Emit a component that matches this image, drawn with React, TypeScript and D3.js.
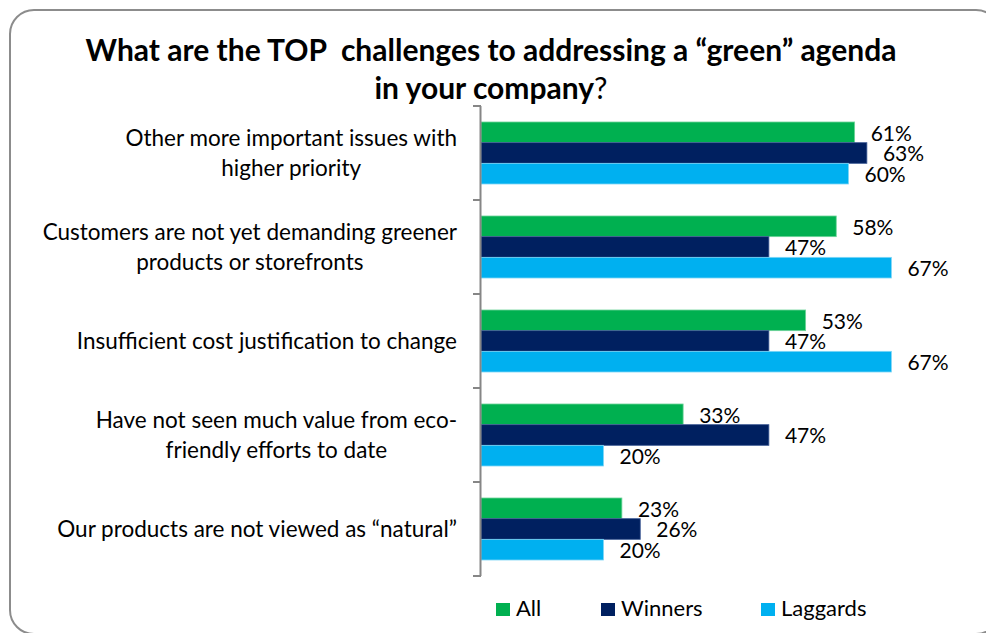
import React, { useEffect, useRef } from "react";
import * as d3 from "d3";

const categories = [
  "Other more important issues with\nhigher priority",
  "Customers are not yet demanding greener\nproducts or storefronts",
  "Insufficient cost justification to change",
  "Have not seen much value from eco-\nfriendly efforts to date",
  "Our products are not viewed as “natural”",
];
const seriesNames = ["All", "Winners", "Laggards"];
const allValues = [0.61, 0.58, 0.53, 0.33, 0.23];
const winnersValues = [0.63, 0.47, 0.47, 0.47, 0.26];
const laggardsValues = [0.6, 0.67, 0.67, 0.2, 0.2];
const seriesColors = ["#00B050", "#002060", "#00B0F0"];
const seriesStrokes = ["#6fd49a", "#3d5a94", "#7fd6f6"];
const titleLine1 = "What are the TOP  challenges to addressing a “green” agenda";
const titleLine2Bold = "in your company";
const titleLine2Rest = "?";

const W = 986;
const H = 633;
const FONT = "Lato, 'Open Sans', sans-serif";

export default function App() {
  const ref = useRef<SVGSVGElement>(null);

  useEffect(() => {
    const svg = d3.select(ref.current);
    svg.selectAll("*").remove();

    const seriesValues = [allValues, winnersValues, laggardsValues];

    svg.append("rect").attr("width", W).attr("height", H).attr("fill", "#fff");
    svg
      .append("rect")
      .attr("x", 10)
      .attr("y", 10)
      .attr("width", 990)
      .attr("height", 624)
      .attr("rx", 24)
      .attr("fill", "#fff")
      .attr("stroke", "#8c8c8c")
      .attr("stroke-width", 2);

    // Title
    svg
      .append("text")
      .attr("x", 491)
      .attr("y", 61)
      .attr("text-anchor", "middle")
      .attr("font-family", FONT)
      .attr("font-weight", "bold")
      .attr("font-size", 30)
      .attr("fill", "#000")
      .style("white-space", "pre")
      .text(titleLine1);
    const t2 = svg
      .append("text")
      .attr("x", 491)
      .attr("y", 99)
      .attr("text-anchor", "middle")
      .attr("font-family", FONT)
      .attr("font-size", 30)
      .attr("fill", "#000");
    t2.append("tspan").attr("font-weight", "bold").text(titleLine2Bold);
    t2.append("tspan").attr("font-weight", "normal").text(titleLine2Rest);

    const x = d3.scaleLinear().domain([0, 0.8]).range([481, 971]);
    const y = d3
      .scaleBand<number>()
      .domain(d3.range(categories.length))
      .range([106, 576])
      .paddingInner(0)
      .paddingOuter(0);
    const inner = d3
      .scaleBand<string>()
      .domain(seriesNames)
      .range([0, y.step()])
      .paddingInner(0)
      .paddingOuter(0.774);

    const g = svg.append("g");
    seriesNames.forEach((s, si) => {
      const vals = seriesValues[si];
      g.selectAll(null)
        .data(vals)
        .enter()
        .append("rect")
        .attr("x", x(0))
        .attr("y", (_, i) => (y(i) as number) + (inner(s) as number))
        .attr("width", (v) => x(v) - x(0))
        .attr("height", inner.bandwidth())
        .attr("fill", seriesColors[si])
        .attr("stroke", seriesStrokes[si])
        .attr("stroke-width", 0.8);
      g.selectAll(null)
        .data(vals)
        .enter()
        .append("text")
        .attr("x", (v) => x(v) + 16)
        .attr("y", (_, i) => (y(i) as number) + (inner(s) as number) + inner.bandwidth() / 2 + 1)
        .attr("dy", "0.35em")
        .attr("font-family", FONT)
        .attr("font-size", 21)
        .attr("fill", "#000")
        .text((v) => `${Math.round(v * 100)}%`);
    });

    // Axis
    const ax = svg.append("g").attr("stroke", "#868686").attr("stroke-width", 2);
    ax.append("line").attr("x1", 480.5).attr("x2", 480.5).attr("y1", 106).attr("y2", 576);
    const bounds = d3.range(categories.length + 1).map((i) => 106 + i * y.step());
    ax.selectAll(null)
      .data(bounds)
      .enter()
      .append("line")
      .attr("x1", 473)
      .attr("x2", 481)
      .attr("y1", (d) => d)
      .attr("y2", (d) => d);

    // Category labels
    const labelRight = 457;
    const lineH = 30;
    categories.forEach((c, i) => {
      const lines = c.split("\n");
      const cy = (y(i) as number) + y.bandwidth() / 2;
      const tg = svg.append("g");
      const texts = lines.map((ln, li) =>
        tg
          .append("text")
          .attr("y", cy + (li - (lines.length - 1) / 2) * lineH)
          .attr("dy", "0.35em")
          .attr("text-anchor", "middle")
          .attr("font-family", FONT)
          .attr("font-size", 22.5)
          .attr("fill", "#000")
          .text(ln)
      );
      const maxW = d3.max(texts, (t) => (t.node() as SVGTextElement).getComputedTextLength()) || 0;
      texts.forEach((t) => t.attr("x", labelRight - maxW / 2));
    });

    // Legend
    const legX = [496, 601, 761];
    seriesNames.forEach((s, si) => {
      svg
        .append("rect")
        .attr("x", legX[si])
        .attr("y", 603)
        .attr("width", 14)
        .attr("height", 13)
        .attr("fill", seriesColors[si]);
      svg
        .append("text")
        .attr("x", legX[si] + 20)
        .attr("y", 616)
        .attr("font-family", FONT)
        .attr("font-size", 22)
        .attr("fill", "#000")
        .text(s);
    });
  }, []);

  return (
    <svg
      ref={ref}
      width={W}
      height={H}
      style={{ position: "absolute", left: 0, top: 0, display: "block" }}
    />
  );
}
